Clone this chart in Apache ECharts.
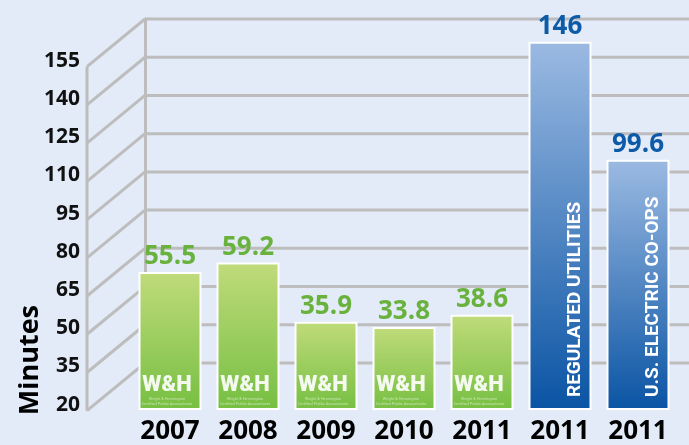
<!DOCTYPE html>
<html>
<head>
<meta charset="utf-8">
<script src="https://cdn.jsdelivr.net/npm/echarts@6/dist/echarts.min.js"></script>
<style>
    html, body { margin: 0; padding: 0; background: #e2ebf7; }
    #chart { width: 689px; height: 445px; }
</style>
</head>
<body>
<div id="chart"></div>
<script>
// data
var years = ['2007', '2008', '2009', '2010', '2011', '2011', '2011'];
var greenValues = [55.5, 59.2, 35.9, 33.8, 38.6, '-', '-'];
var blueValues = ['-', '-', '-', '-', '-', 146, 99.6];
var blueNames = ['', '', '', '', '', 'REGULATED UTILITIES', 'U.S. ELECTRIC CO-OPS'];
var yTicks = [20, 35, 50, 65, 80, 95, 110, 125, 140, 155];

(function () {
    var myChart = echarts.init(document.getElementById('chart'));
    var lineColor = '#bdbdbd';
    // depth of the fake 3d wall
    var DX = -58, DY = 47.7;

    var allValues = [];
    for (var i = 0; i < years.length; i++) {
        allValues.push(greenValues[i] !== '-' ? greenValues[i] : blueValues[i]);
    }

    function renderWall(params, api) {
        var v = api.value(0);
        var back = api.coord([0, v]);
        var right = api.coord([1, v]);
        var front = [back[0] + DX, back[1] + DY];
        var style = { stroke: lineColor, lineWidth: 3 };
        var children = [
            { type: 'line', shape: { x1: back[0], y1: back[1], x2: right[0], y2: right[1] }, style: style },
            { type: 'line', shape: { x1: front[0], y1: front[1], x2: back[0], y2: back[1] }, style: style },
            {
                type: 'text', x: front[0] - 7, y: front[1] - 6,
                style: {
                    text: String(v), align: 'right', verticalAlign: 'middle',
                    font: 'bold 21px "Open Sans"', fill: '#111'
                }
            }
        ];
        if (params.dataIndex === 0) {
            var top = api.coord([0, yTicks[yTicks.length - 1]]);
            children.push({ type: 'line', shape: { x1: front[0], y1: front[1], x2: top[0] + DX, y2: top[1] + DY }, style: style });
        }
        return { type: 'group', children: children };
    }

    var options = {
        backgroundColor: '#e2ebf7',
        animation: false,
        textStyle: { fontFamily: '"Open Sans", sans-serif' },
        grid: [
            { left: 145, right: 0, top: 19, bottom: 82 },
            { left: 131, right: 12, top: 19, bottom: 35 }
        ],
        xAxis: [
            { gridIndex: 0, type: 'value', min: 0, max: 1, show: false },
            {
                gridIndex: 1, type: 'category', data: years,
                axisLine: { show: false }, axisTick: { show: false },
                axisLabel: { color: '#000', fontSize: 26, fontWeight: 'bold', margin: 10 }
            }
        ],
        yAxis: [
            {
                gridIndex: 0, type: 'value', min: 20, max: 155,
                axisLine: { show: true, lineStyle: { color: lineColor, width: 3 } },
                axisTick: { show: false }, axisLabel: { show: false }, splitLine: { show: false }
            },
            { gridIndex: 1, type: 'value', min: 1.55, max: 155, show: false, splitLine: { show: false } }
        ],
        graphic: [{
            type: 'text', left: 17, top: 305, rotation: Math.PI / 2,
            style: { text: 'Minutes', font: 'bold 27px "Open Sans"', fill: '#000' }
        }],
        series: [
            {
                type: 'custom', xAxisIndex: 0, yAxisIndex: 0, z: 1, silent: true,
                data: yTicks.map(function (v) { return [v]; }),
                encode: { y: 0 },
                renderItem: renderWall
            },
            {
                name: 'green', type: 'bar', xAxisIndex: 1, yAxisIndex: 1,
                data: greenValues, barWidth: 63, barGap: '-100%',
                itemStyle: {
                    borderColor: '#fff', borderWidth: 2,
                    color: new echarts.graphic.LinearGradient(0, 0, 0, 1, [
                        { offset: 0, color: '#c0db7b' }, { offset: 1, color: '#76bf42' }
                    ])
                },
                label: {
                    show: true, position: 'insideBottom', distance: 4, offset: [-3, 0],
                    formatter: '{w|W&H}\n{s|Wright & Hennington}\n{s|Certified Public Accountants}',
                    rich: {
                        w: { color: 'rgba(255,255,255,0.9)', fontSize: 22, fontWeight: 900, fontFamily: 'Roboto', lineHeight: 22 },
                        s: { color: 'rgba(255,255,255,0.55)', fontSize: 4, lineHeight: 5, fontFamily: 'Roboto' }
                    }
                }
            },
            {
                name: 'blue', type: 'bar', xAxisIndex: 1, yAxisIndex: 1,
                data: blueValues, barWidth: 63,
                itemStyle: {
                    borderColor: '#fff', borderWidth: 2,
                    color: new echarts.graphic.LinearGradient(0, 0, 0, 1, [
                        { offset: 0, color: '#9bbae2' }, { offset: 1, color: '#0a54a4' }
                    ])
                },
                label: {
                    show: true, position: 'insideBottom', distance: 13, rotate: 90,
                    align: 'left', verticalAlign: 'middle', offset: [0, 15],
                    color: '#fff', fontSize: 19, fontWeight: 'bold', fontFamily: 'Roboto',
                    formatter: function (p) { return blueNames[p.dataIndex]; }
                }
            },
            {
                name: 'values', type: 'bar', xAxisIndex: 1, yAxisIndex: 1, silent: true,
                data: allValues, barWidth: 63, z: 5,
                itemStyle: { color: 'transparent' },
                label: {
                    show: true, position: 'top', distance: 2,
                    formatter: function (p) {
                        return greenValues[p.dataIndex] !== '-' ? '{g|' + p.value + '}' : '{b|' + p.value + '}';
                    },
                    rich: {
                        g: { color: '#6ab23e', fontSize: 26, fontWeight: 'bold' },
                        b: { color: '#0d5ba8', fontSize: 26, fontWeight: 'bold' }
                    }
                }
            }
        ]
    };
    myChart.setOption(options);
})();
</script>
</body>
</html>
